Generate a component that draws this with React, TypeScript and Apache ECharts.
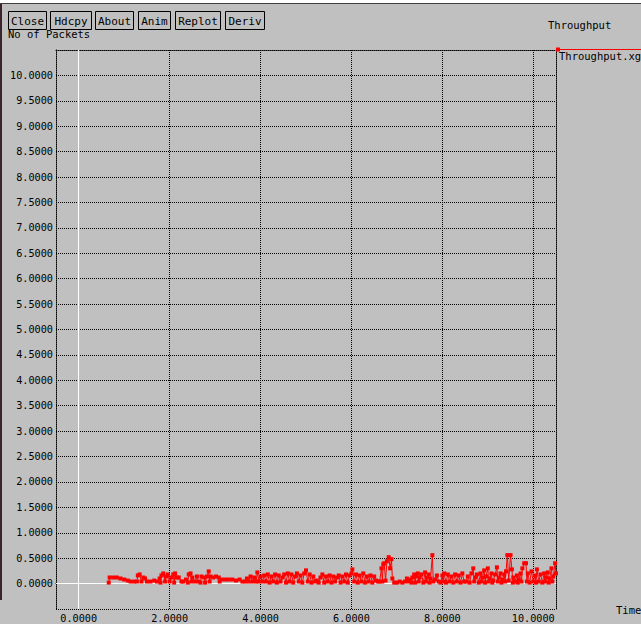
import React, { useEffect, useRef } from "react";
import * as echarts from "echarts";

// Throughput samples: [time, packets]
const seg0: [number, number][] = [
  [0.66, 0.02], [0.68, 0.12], [0.76, 0.12], [0.84, 0.12], [0.92, 0.1], [1.0, 0.08], [1.08, 0.06],
  [1.14, 0.04], [1.22, 0.04], [1.28, 0.04], [1.3, 0.16], [1.34, 0.18], [1.38, 0.04], [1.42, 0.12],
  [1.46, 0.1], [1.5, 0.04], [1.58, 0.04], [1.66, 0.06], [1.72, 0.04], [1.78, 0.1], [1.8, 0.02],
  [1.82, 0.16], [1.86, 0.2], [1.9, 0.04], [1.92, 0.14], [1.96, 0.18], [2.0, 0.04],
];
const seg1: [number, number][] = [
  [2.04, 0.12], [2.08, 0.18], [2.1, 0.02], [2.12, 0.2], [2.16, 0.12], [2.2, 0.12], [2.26, 0.04],
  [2.3, 0.04], [2.36, 0.08], [2.4, 0.02], [2.42, 0.18], [2.46, 0.2], [2.48, 0.04], [2.5, 0.12],
  [2.56, 0.04], [2.6, 0.14], [2.64, 0.04], [2.68, 0.02], [2.7, 0.14], [2.76, 0.12], [2.78, 0.02],
  [2.82, 0.14], [2.86, 0.24], [2.88, 0.04], [2.9, 0.14], [2.96, 0.12], [3.02, 0.14], [3.08, 0.12],
  [3.1, 0.04], [3.14, 0.08], [3.22, 0.08], [3.3, 0.08], [3.38, 0.08], [3.46, 0.06], [3.54, 0.08],
  [3.6, 0.04], [3.66, 0.04], [3.7, 0.1], [3.74, 0.04], [3.78, 0.14], [3.82, 0.04], [3.86, 0.12],
  [3.9, 0.04], [3.93, 0.22], [3.96, 0.04], [4.0, 0.14],
];
const seg2: [number, number][] = [
  [4.04, 0.04], [4.08, 0.16], [4.12, 0.04], [4.16, 0.18], [4.2, 0.02], [4.24, 0.14], [4.28, 0.04],
  [4.32, 0.18], [4.36, 0.02], [4.4, 0.16], [4.44, 0.04], [4.48, 0.12], [4.52, 0.18], [4.56, 0.02],
  [4.6, 0.2], [4.64, 0.04], [4.68, 0.18], [4.72, 0.02], [4.76, 0.14], [4.8, 0.2], [4.84, 0.04],
  [4.88, 0.16], [4.92, 0.02], [4.96, 0.2], [5.0, 0.26], [5.04, 0.04], [5.08, 0.18], [5.12, 0.02],
  [5.16, 0.14], [5.2, 0.04], [5.24, 0.06], [5.28, 0.02], [5.32, 0.12], [5.36, 0.18], [5.4, 0.02],
  [5.44, 0.14], [5.48, 0.04], [5.52, 0.16], [5.56, 0.02], [5.6, 0.14], [5.64, 0.04], [5.68, 0.12],
  [5.72, 0.16], [5.76, 0.02], [5.8, 0.14], [5.84, 0.04], [5.88, 0.18], [5.92, 0.02], [5.96, 0.16],
  [6.0, 0.2],
];
const seg3: [number, number][] = [
  [6.02, 0.28], [6.06, 0.04], [6.1, 0.18], [6.14, 0.02], [6.18, 0.16], [6.22, 0.04], [6.26, 0.2],
  [6.3, 0.02], [6.34, 0.14], [6.38, 0.04], [6.42, 0.16], [6.46, 0.02], [6.5, 0.14], [6.54, 0.06],
  [6.58, 0.04], [6.62, 0.04], [6.66, 0.3], [6.68, 0.04], [6.7, 0.38], [6.72, 0.4], [6.75, 0.06],
  [6.78, 0.44], [6.82, 0.52], [6.85, 0.3], [6.88, 0.48], [6.9, 0.1], [6.94, 0.02], [7.0, 0.02],
  [7.06, 0.04], [7.12, 0.02], [7.18, 0.04], [7.22, 0.1], [7.26, 0.04], [7.3, 0.08], [7.32, 0.02],
  [7.34, 0.12], [7.38, 0.18], [7.4, 0.02], [7.42, 0.14], [7.46, 0.2], [7.48, 0.04], [7.5, 0.12],
  [7.54, 0.18], [7.58, 0.02], [7.62, 0.22], [7.64, 0.04], [7.66, 0.12], [7.7, 0.18], [7.72, 0.02],
  [7.74, 0.1], [7.78, 0.56], [7.8, 0.04], [7.84, 0.08], [7.88, 0.16], [7.92, 0.04], [7.96, 0.02],
  [8.0, 0.16],
];
const seg4: [number, number][] = [
  [8.02, 0.04], [8.04, 0.2], [8.08, 0.02], [8.12, 0.18], [8.16, 0.04], [8.2, 0.14], [8.24, 0.02],
  [8.28, 0.18], [8.32, 0.04], [8.36, 0.16], [8.4, 0.02], [8.44, 0.2], [8.48, 0.04], [8.52, 0.04],
  [8.56, 0.14], [8.6, 0.02], [8.64, 0.2], [8.68, 0.3], [8.7, 0.04], [8.72, 0.12], [8.76, 0.18],
  [8.8, 0.02], [8.84, 0.2], [8.86, 0.04], [8.88, 0.12], [8.92, 0.26], [8.94, 0.02], [8.96, 0.14],
  [9.0, 0.3], [9.02, 0.04], [9.04, 0.1], [9.08, 0.2], [9.1, 0.02], [9.12, 0.06], [9.16, 0.18],
  [9.2, 0.32], [9.22, 0.04], [9.24, 0.12], [9.28, 0.2], [9.3, 0.02], [9.32, 0.08], [9.36, 0.18],
  [9.38, 0.04], [9.4, 0.24], [9.43, 0.56], [9.46, 0.06], [9.5, 0.56], [9.53, 0.28], [9.55, 0.02],
  [9.56, 0.12], [9.6, 0.04], [9.64, 0.16], [9.66, 0.02], [9.68, 0.08], [9.72, 0.2], [9.74, 0.04],
  [9.76, 0.3], [9.8, 0.4], [9.84, 0.4], [9.86, 0.04], [9.88, 0.2], [9.92, 0.02], [9.96, 0.24],
  [10.0, 0.04], [10.04, 0.16], [10.06, 0.02], [10.08, 0.28], [10.12, 0.04], [10.16, 0.18],
  [10.2, 0.02], [10.24, 0.2], [10.26, 0.04], [10.28, 0.12], [10.32, 0.22], [10.34, 0.02],
  [10.36, 0.1], [10.4, 0.3], [10.42, 0.04], [10.44, 0.14], [10.48, 0.4], [10.5, 0.2],
];

const xGridValues = [2, 4, 6, 8, 10];
const buttons = ["Close", "Hdcpy", "About", "Anim", "Replot", "Deriv"];

const MONO = "DejaVu Sans Mono";
const BG = "#c0c0c0";

export default function App() {
  const ref = useRef<HTMLDivElement>(null);

  useEffect(() => {
    if (!ref.current) return;
    const chart = echarts.init(ref.current, undefined, { renderer: "svg" });
    const data = [...seg0, ...seg1, ...seg2, ...seg3, ...seg4];

    // button boxes: [left, width]
    const boxes: [number, number][] = [[8, 38], [50, 41], [95, 38], [138, 32], [175, 45], [225, 39]];

    const dotted = { color: "#000", width: 1, type: "dotted" as const };

    const graphic: any[] = [
      { type: "rect", shape: { x: 0, y: 0, width: 641, height: 3 }, style: { fill: "#fff" }, z: 1 },
      { type: "line", shape: { x1: 0, y1: 3.5, x2: 641, y2: 3.5 }, style: { stroke: "#404040", lineWidth: 1 }, z: 1 },
      { type: "rect", shape: { x: 0, y: 4, width: 2, height: 596 }, style: { fill: "#3a2430" }, z: 1 },
      {
        type: "text", x: 8, y: 28, z: 1,
        style: { text: "No of Packets", font: `10.5px ${MONO}`, fill: "#000", verticalAlign: "top" },
      },
      ...boxes.flatMap(([x, w], i) => [
        {
          type: "rect", z: 2,
          shape: { x: x + 0.5, y: 11.5, width: w, height: 18 },
          style: { fill: BG, stroke: "#000", lineWidth: 1 },
        },
        {
          type: "text", z: 3, x: x + 0.5 + w / 2, y: 21,
          style: { text: buttons[i], font: `11px ${MONO}`, fill: "#000", align: "center", verticalAlign: "middle" },
        },
      ]),
      {
        type: "text", x: 548, y: 25, z: 1,
        style: { text: "Throughput", font: `10.5px ${MONO}`, fill: "#000", verticalAlign: "middle" },
      },
      { type: "line", shape: { x1: 556, y1: 49.5, x2: 641, y2: 49.5 }, style: { stroke: "#ff0000", lineWidth: 1 }, z: 3 },
      { type: "rect", shape: { x: 556, y: 47.5, width: 4, height: 4 }, style: { fill: "#ff0000" }, z: 3 },
      {
        type: "text", x: 559, y: 56, z: 1,
        style: { text: "Throughput.xg", font: `10.5px ${MONO}`, fill: "#000", verticalAlign: "middle" },
      },
      {
        type: "text", x: 616, y: 610, z: 1,
        style: { text: "Time", font: `10.5px ${MONO}`, fill: "#000", verticalAlign: "middle" },
      },
    ];

    const isEven = (v: number) => v >= -1e-9 && v <= 10 + 1e-9 && Math.abs(v / 2 - Math.round(v / 2)) < 1e-6;

    chart.setOption({
      animation: false,
      backgroundColor: BG,
      graphic,
      grid: { left: 56, top: 50, width: 500, height: 559, show: false },
      xAxis: [
        {
          type: "value", min: -0.5, max: 10.5, interval: 0.5, position: "bottom",
          axisLine: { show: true, lineStyle: dotted },
          axisTick: { show: false },
          splitLine: { show: false },
          axisLabel: {
            margin: 4, color: "#000", fontFamily: MONO, fontSize: 10.2,
            formatter: (v: number) => (isEven(v) ? v.toFixed(4) : ""),
          },
        },
        {
          type: "value", min: -0.5, max: 10.5, position: "top",
          axisLine: { show: true, onZero: false, lineStyle: dotted },
          axisTick: { show: false }, axisLabel: { show: false }, splitLine: { show: false },
        },
      ],
      yAxis: [
        {
          type: "value", min: -0.5, max: 10.5, interval: 0.5, position: "left",
          axisLine: { show: true, onZero: false, lineStyle: dotted },
          axisTick: { show: false },
          splitLine: { show: true, lineStyle: dotted },
          axisLabel: {
            margin: 3, color: "#000", fontFamily: MONO, fontSize: 10.2,
            formatter: (v: number) => (v < -1e-9 || v > 10 + 1e-9 ? "" : v.toFixed(4)),
          },
        },
        {
          type: "value", min: -0.5, max: 10.5, position: "right",
          axisLine: { show: true, onZero: false, lineStyle: dotted },
          axisTick: { show: false }, axisLabel: { show: false }, splitLine: { show: false },
        },
      ],
      series: [
        {
          type: "line",
          data: [],
          silent: true,
          z: 1,
          markLine: {
            silent: true,
            symbol: ["none", "none"],
            label: { show: false },
            animation: false,
            data: [
              ...xGridValues.map((v) => ({ xAxis: v, lineStyle: { color: "#000", width: 1, type: "dotted" } })),
              { xAxis: 0, lineStyle: { color: "#fff", width: 1, type: "solid" } },
              { yAxis: 0, lineStyle: { color: "#fff", width: 1, type: "solid" } },
            ],
          },
        },
        {
          type: "line",
          name: "Throughput.xg",
          data,
          z: 5,
          symbol: "rect",
          symbolSize: 4,
          showSymbol: true,
          showAllSymbol: true,
          lineStyle: { color: "#ff0000", width: 1 },
          itemStyle: { color: "#ff0000" },
        },
      ],
    });

    return () => chart.dispose();
  }, []);

  return (
    <div
      ref={ref}
      style={{ position: "fixed", left: 0, top: 0, width: 641, height: 624, background: BG }}
    />
  );
}
